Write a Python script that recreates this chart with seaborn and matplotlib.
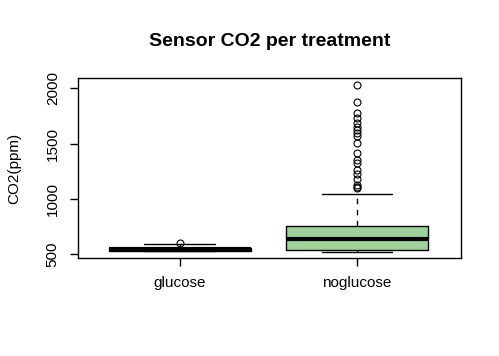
import numpy as np
import pandas as pd
import matplotlib
matplotlib.use("Agg")
import matplotlib.pyplot as plt
import seaborn as sns

# CO2 readings (ppm), as value levels + how many readings sit at each
glucose_levels = [530, 535, 545, 558, 590, 605]
glucose_counts = [1, 5, 5, 8, 1, 1]

noglucose_levels = [523, 540, 600, 635, 700, 760, 900, 1045]
noglucose_counts = [1, 25, 23, 1, 23, 5, 1, 1]
noglucose_outliers = [2032, 1873, 1779, 1728, 1683, 1653, 1623, 1599, 1571,
                      1503, 1418, 1352, 1322, 1262, 1225, 1177, 1126, 1105, 1100]

treatments = ["glucose", "noglucose"]
y_ticks = [500, 1000, 1500, 2000]

glucose = np.repeat(glucose_levels, glucose_counts)
noglucose = np.concatenate([np.repeat(noglucose_levels, noglucose_counts), noglucose_outliers])

df = pd.DataFrame({
    "treatment": ["glucose"] * len(glucose) + ["noglucose"] * len(noglucose),
    "co2": np.concatenate([glucose, noglucose]),
})

sns.set_theme(style="white")
plt.rcParams["font.family"] = ["Liberation Sans", "DejaVu Sans"]
plt.rcParams["text.color"] = "black"
plt.rcParams["axes.labelcolor"] = "black"
plt.rcParams["xtick.color"] = "black"
plt.rcParams["ytick.color"] = "black"

fig, ax = plt.subplots(figsize=(4.99, 3.56), dpi=100)
fig.subplots_adjust(left=0.156, right=0.924, top=0.781, bottom=0.275)

sns.boxplot(data=df, x="treatment", y="co2", order=treatments, ax=ax,
            color="#9fd09a", saturation=1, width=0.8, linecolor="black", linewidth=1,
            whiskerprops=dict(linestyle=(0, (4, 4))),
            medianprops=dict(linewidth=3),
            flierprops=dict(marker="o", markerfacecolor="none", markeredgecolor="black",
                            markersize=5, markeredgewidth=0.8))

ax.set_ylim(467, 2093)
ax.set_xlim(-0.576, 1.588)
ax.set_yticks(y_ticks)
ax.set_yticklabels([str(v) for v in y_ticks], rotation=90, va="center")
ax.tick_params(axis="both", which="both", length=6, width=1, color="black",
               labelcolor="black", labelsize=11, pad=7, left=True, bottom=True)
for s in ax.spines.values():
    s.set_visible(True)
    s.set_color("black")
    s.set_linewidth(1)

ax.set_xlabel("")
ax.set_ylabel("CO2(ppm)", fontsize=11, labelpad=18, color="black")
ax.set_title("Sensor CO2 per treatment", fontsize=14, fontweight="bold", pad=23, color="black")

fig.savefig("out.png", dpi=100)
